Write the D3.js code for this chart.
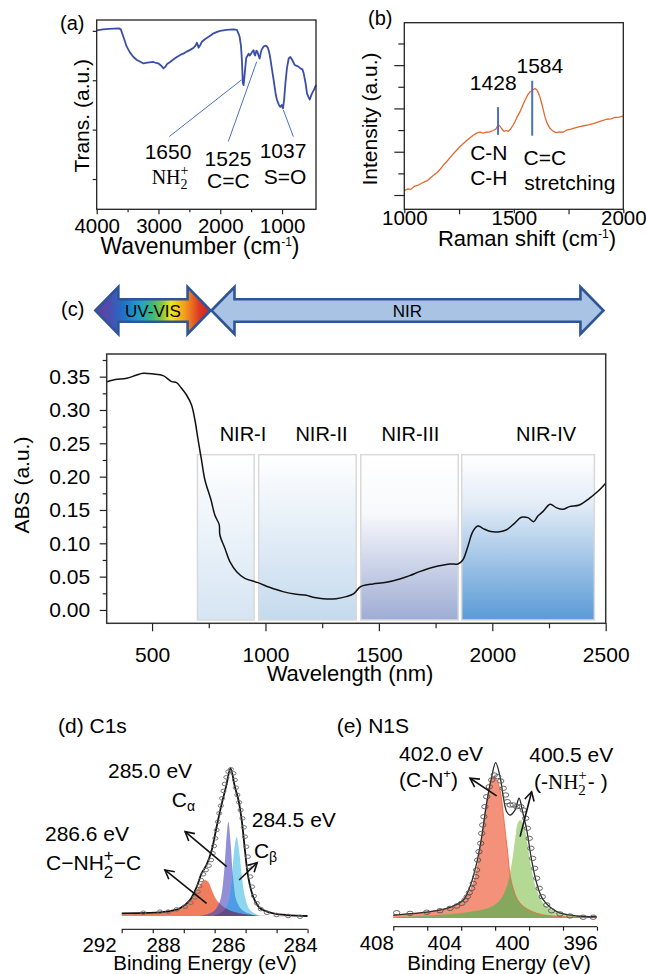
<!DOCTYPE html>
<html><head><meta charset="utf-8">
<script src="https://cdn.jsdelivr.net/npm/d3@7"></script>
<style>
body{margin:0;background:#fff;}
svg{display:block;}
</style></head><body>
<svg id="fig" width="646" height="974"></svg>
<script>
// ---------------- DATA ----------------
// (a) FTIR: [wavenumber cm-1, transmittance a.u.]
const ftir = [[4000,4.01],[3900,4.03],[3800,4.04],[3640,4.05],[3610,4.03],[3560,3.85],[3514,3.68],[3460,3.56],[3405,3.47],[3350,3.41],[3300,3.38],[3243,3.34],[3200,3.35],[3150,3.36],[3081,3.37],[3040,3.35],[3000,3.34],[2960,3.30],[2919,3.24],[2890,3.27],[2860,3.33],[2811,3.37],[2760,3.42],[2703,3.47],[2660,3.50],[2620,3.53],[2580,3.55],[2541,3.58],[2480,3.62],[2430,3.66],[2400,3.70],[2378,3.76],[2360,3.70],[2351,3.66],[2320,3.72],[2297,3.78],[2250,3.83],[2200,3.87],[2150,3.91],[2108,3.95],[2050,3.98],[2000,4.0],[1900,4.02],[1784,4.03],[1730,4.02],[1700,3.93],[1686,3.88],[1665,3.70],[1649,3.40],[1635,2.95],[1622,2.90],[1610,3.05],[1595,3.25],[1580,3.45],[1541,3.54],[1525,3.50],[1510,3.52],[1480,3.58],[1460,3.61],[1445,3.52],[1435,3.50],[1415,3.60],[1400,3.58],[1380,3.50],[1362,3.44],[1345,3.55],[1330,3.62],[1300,3.68],[1270,3.70],[1250,3.69],[1230,3.66],[1210,3.58],[1189,3.44],[1160,3.20],[1135,3.00],[1100,2.70],[1081,2.60],[1050,2.50],[1027,2.46],[1005,2.50],[984,2.43],[965,2.62],[946,2.93],[920,3.25],[892,3.44],[865,3.47],[830,3.40],[800,3.32],[784,3.30],[740,3.28],[703,3.24],[670,3.22],[649,3.14],[620,2.95],[595,2.73],[570,2.66],[551,2.61],[520,2.72],[486,2.80],[450,2.90]];
const ftirTicks = [4000,3000,2000,1000];
const ftirMinor = [3500,2500,1500];
const ftirYTicks = [1,2,3,4];
const ftirNotes = [
  {x0:1653, y0:3.01, x1:2825, y1:1.86, lx:2846, ly:1.41, num:"1650", sub:"NH2+", sx:2813, sy:0.90},
  {x0:1410, y0:3.376, x1:1870, y1:1.758, lx:1875, ly:1.266, num:"1525", sub:"C=C", sx:1870, sy:0.82},
  {x0:979, y0:2.40, x1:817, y1:1.859, lx:984, ly:1.428, num:"1037", sub:"S=O", sx:952, sy:0.90}
];

// (b) Raman: [Raman shift cm-1, intensity a.u.]
const raman = [[1000,1.10],[1015,1.14],[1030,1.13],[1045,1.20],[1060,1.22],[1075,1.26],[1090,1.30],[1105,1.33],[1120,1.40],[1135,1.46],[1150,1.52],[1165,1.60],[1180,1.70],[1195,1.78],[1210,1.87],[1225,1.96],[1240,2.04],[1255,2.12],[1270,2.19],[1285,2.26],[1300,2.32],[1315,2.38],[1330,2.43],[1345,2.45],[1360,2.43],[1375,2.45],[1390,2.46],[1405,2.49],[1418,2.52],[1428,2.62],[1436,2.60],[1445,2.53],[1455,2.47],[1465,2.49],[1475,2.47],[1485,2.52],[1495,2.60],[1505,2.69],[1515,2.80],[1528,2.92],[1540,3.06],[1551,3.19],[1562,3.30],[1574,3.38],[1585,3.42],[1597,3.46],[1605,3.43],[1612,3.36],[1620,3.25],[1627,3.12],[1635,2.96],[1642,2.81],[1652,2.66],[1665,2.54],[1680,2.47],[1696,2.44],[1710,2.46],[1725,2.45],[1741,2.50],[1760,2.52],[1780,2.55],[1802,2.58],[1820,2.60],[1840,2.62],[1863,2.65],[1880,2.68],[1900,2.71],[1924,2.75],[1945,2.76],[1960,2.79],[1980,2.80],[2000,2.82]];
const ramanTicks = [1000,1500,2000];
const ramanMinor = [1250,1750];
const ramanYTicks = [1,2,3,4];
const ramanYMinor = [1.5,2.5,3.5,4.5];
const ramanPeaks = [
  {x:1428, y0:2.39, y1:3.03, label:"1428", lx:1406, ly:3.42},
  {x:1584, y0:2.37, y1:3.64, label:"1584", lx:1619, ly:3.82}
];
const ramanNotes = [
  {t:"C-N", x:1386, y:1.81}, {t:"C-H", x:1386, y:1.22},
  {t:"C=C", x:1642, y:1.70}, {t:"stretching", x:1756, y:1.12}
];

// (c) UV-VIS-NIR absorbance: [wavelength nm, ABS a.u.]
const absorb = [[300,0.3425],[315,0.344],[329,0.345],[344,0.346],[388,0.3475],[432,0.3525],[461,0.355],[505,0.354],[549,0.3515],[586,0.3425],[608,0.341],[630,0.3325],[652,0.3225],[674,0.3075],[689,0.285],[703,0.255],[718,0.225],[733,0.195],[760,0.165],[777,0.142],[796,0.128],[799,0.1125],[821,0.0925],[843,0.0725],[873,0.0575],[909,0.0475],[967,0.041],[1018,0.034],[1077,0.0275],[1136,0.0235],[1180,0.022],[1209,0.019],[1253,0.017],[1312,0.017],[1356,0.02],[1388,0.024],[1415,0.034],[1430,0.0365],[1474,0.039],[1533,0.0415],[1592,0.0465],[1636,0.0515],[1680,0.0575],[1739,0.064],[1812,0.069],[1848,0.069],[1870,0.075],[1892,0.095],[1914,0.1175],[1936,0.126],[1958,0.1225],[1988,0.118],[2025,0.117],[2061,0.12],[2098,0.13],[2128,0.139],[2157,0.1385],[2182,0.1325],[2201,0.141],[2223,0.1475],[2255,0.1585],[2282,0.1535],[2311,0.151],[2340,0.155],[2384,0.1575],[2428,0.1675],[2472,0.18],[2500,0.19]];
const absTicks = [0,0.05,0.10,0.15,0.20,0.25,0.30,0.35];
const absMinor = [0.025,0.075,0.125,0.175,0.225,0.275,0.325,0.375];
const wlTicks = [500,1000,1500,2000,2500];
const wlMinor = [750,1250,1750,2250];
const nirBands = [
  {name:"NIR-I",   from:700,  to:950,  labelAt:901,  color:"#d6e5f3"},
  {name:"NIR-II",  from:970,  to:1400, labelAt:1247, color:"#c5daee"},
  {name:"NIR-III", from:1420, to:1850, labelAt:1639, color:"#9eacd4"},
  {name:"NIR-IV",  from:1865, to:2450, labelAt:2237, color:"#5a9ad6"}
];
const bandTop = 0.233, bandBottom = -0.015, bandLabelY = 0.254;
const spectrumBands = [{name:"UV-VIS", from:250, to:758}, {name:"NIR", from:762, to:2490}];

// (d) XPS C1s: [binding energy eV, normalised intensity]
const c1sEnvelope = [[290.58,0.018],[287.89,0.029],[287.48,0.052],[287.17,0.108],[286.96,0.198],[286.81,0.289],[286.66,0.345],[286.50,0.446],[286.35,0.603],[286.19,0.761],[286.06,0.874],[285.93,0.998],[285.81,0.874],[285.71,0.784],[285.62,0.649],[285.53,0.446],[285.44,0.266],[285.30,0.130],[285.11,0.052],[284.74,0.018],[283.79,0.0]];
const c1sCNH = [[290.58,0.012],[287.89,0.025],[287.38,0.063],[287.17,0.108],[286.96,0.176],[286.80,0.228],[286.71,0.243],[286.60,0.228],[286.50,0.176],[286.35,0.108],[286.14,0.063],[285.85,0.029],[285.20,0.004],[283.79,0.0]];
const c1sCa = [[286.86,0.0],[286.45,0.03],[286.25,0.10],[286.14,0.25],[286.06,0.48],[285.99,0.636],[285.93,0.50],[285.85,0.24],[285.76,0.10],[285.58,0.035],[285.20,0.0]];
const c1sCb = [[286.45,0.0],[286.14,0.035],[285.99,0.10],[285.90,0.24],[285.83,0.44],[285.76,0.535],[285.69,0.44],[285.62,0.28],[285.53,0.13],[285.39,0.04],[285.11,0.0]];
const c1sPoints = [[289.23,0.022],[288.19,0.029],[287.84,0.029],[287.58,0.045],[287.32,0.063],[287.15,0.090],[287.02,0.126],[286.93,0.164],[286.88,0.203],[286.83,0.243],[286.76,0.282],[286.68,0.311],[286.59,0.340],[286.52,0.378],[286.47,0.424],[286.43,0.473],[286.39,0.525],[286.35,0.581],[286.31,0.637],[286.27,0.694],[286.22,0.745],[286.18,0.795],[286.14,0.845],[286.10,0.892],[286.05,0.937],[285.99,0.975],[285.92,0.991],[285.85,0.964],[285.81,0.919],[285.78,0.867],[285.74,0.818],[285.69,0.768],[285.65,0.716],[285.60,0.660],[285.56,0.599],[285.53,0.536],[285.49,0.468],[285.45,0.401],[285.42,0.333],[285.38,0.266],[285.33,0.198],[285.28,0.135],[285.20,0.086],[285.09,0.047],[284.92,0.022],[284.65,0.007],[284.33,0.0],[284.0,-0.005]];
const c1sTickLabels = [292,288,286,284];
const c1sTicks = [290.58,288.64,287.36,286.41,285.51,284.65,283.79];

// (e) XPS N1s
const n1sEnvelope = [[407.0,0.019],[404.84,0.041],[403.66,0.069],[402.87,0.116],[402.48,0.202],[402.09,0.352],[401.79,0.524],[401.50,0.739],[401.20,0.910],[400.97,1.0],[400.71,0.910],[400.52,0.781],[400.32,0.684],[400.12,0.663],[399.83,0.695],[399.59,0.771],[399.38,0.684],[399.14,0.567],[398.85,0.373],[398.55,0.223],[398.16,0.116],[397.37,0.041],[396.19,0.013],[395.02,0.008]];
const n1sCN = [[407.0,0.019],[404.84,0.041],[403.26,0.084],[402.67,0.137],[402.29,0.223],[401.99,0.352],[401.79,0.524],[401.50,0.739],[401.25,0.880],[401.07,0.910],[400.90,0.885],[400.71,0.824],[400.48,0.631],[400.28,0.438],[400.02,0.223],[399.53,0.095],[398.55,0.030],[396.98,0.008],[395.02,0.003]];
const n1sNH = [[407.0,0.005],[402.87,0.034],[401.30,0.069],[400.71,0.116],[400.32,0.202],[400.02,0.352],[399.83,0.502],[399.63,0.620],[399.49,0.631],[399.30,0.588],[399.10,0.481],[398.85,0.309],[398.55,0.180],[397.96,0.073],[396.59,0.019],[395.02,0.005]];
const n1sPoints = [[406.80,0.034],[406.01,0.030],[405.03,0.037],[404.25,0.047],[403.66,0.062],[403.26,0.077],[402.97,0.095],[402.77,0.116],[402.64,0.137],[402.52,0.163],[402.38,0.191],[402.29,0.223],[402.14,0.266],[402.09,0.309],[402.03,0.373],[401.95,0.427],[401.85,0.481],[401.79,0.545],[401.73,0.599],[401.66,0.652],[401.60,0.717],[401.50,0.781],[401.34,0.845],[401.20,0.889],[401.05,0.921],[400.85,0.910],[400.67,0.882],[400.52,0.835],[400.38,0.792],[400.28,0.749],[400.12,0.728],[399.93,0.728],[399.73,0.717],[399.49,0.717],[399.34,0.695],[399.20,0.642],[399.10,0.578],[398.99,0.513],[398.89,0.449],[398.79,0.384],[398.67,0.320],[398.55,0.256],[398.40,0.191],[398.22,0.137],[397.96,0.084],[397.67,0.047],[397.18,0.026],[396.59,0.013],[395.81,0.005],[395.22,0.005]];
const n1sTickLabels = [408,404,400,396];
const n1sTicks = [407,405,403,401,399,397,395];

// ---------------- DRAWING ----------------
const FONT = '"Liberation Sans", Arial, Helvetica, sans-serif';
const SERIF = '"Liberation Serif", "Times New Roman", serif';
const fmtInt = d3.format("d");
const svg = d3.select("#fig");
svg.append("rect").attr("width",646).attr("height",974).attr("fill","#fff");
const defs = svg.append("defs");

function txt(parent, x, y, s, size, anchor, fam) {
  return parent.append("text").attr("x",x).attr("y",y)
    .attr("text-anchor",anchor||"start").attr("fill","#000")
    .style("font-family",fam||FONT).style("font-size",size+"px").text(s);
}
function richText(parent, x, y, segs, anchor) {
  const g = parent.append("g");
  let cx = 0;
  segs.forEach(s => {
    const fam = s.font || FONT;
    if (s.sup !== undefined || s.sub !== undefined) {
      let w = 0;
      if (s.sup) { const t = g.append("text").attr("x",cx).attr("y",y+s.supDy).attr("fill","#000").style("font-family",fam).style("font-size",s.size+"px").text(s.sup); w = Math.max(w,t.node().getComputedTextLength()); }
      if (s.sub) { const t = g.append("text").attr("x",cx).attr("y",y+s.subDy).attr("fill","#000").style("font-family",fam).style("font-size",s.size+"px").text(s.sub); w = Math.max(w,t.node().getComputedTextLength()); }
      cx += w + (s.pad||0);
    } else {
      const t = g.append("text").attr("x",cx).attr("y",y+(s.dy||0)).attr("fill","#000").style("font-family",fam).style("font-size",s.size+"px").text(s.t);
      cx += t.node().getComputedTextLength() + (s.pad||0);
    }
  });
  const shift = anchor==="middle" ? x - cx/2 : anchor==="end" ? x - cx : x;
  g.attr("transform",`translate(${shift},0)`);
  return g;
}
function styleAxis(sel, fs, labelY) {
  sel.select(".domain").remove();
  sel.selectAll(".tick line").attr("stroke","#222").attr("stroke-width",1.2);
  sel.selectAll(".tick text").attr("fill","#000").style("font-family",FONT).style("font-size",fs+"px");
  if (labelY !== undefined) sel.selectAll(".tick text").attr("dy",null).attr("y",labelY);
}
function frame(g, xs, ys, color, w) {
  const [x0,x1] = xs.range(), [y0,y1] = ys.range();
  g.append("rect").attr("x",Math.min(x0,x1)).attr("y",Math.min(y0,y1))
    .attr("width",Math.abs(x1-x0)).attr("height",Math.abs(y1-y0))
    .attr("fill","none").attr("stroke",color).attr("stroke-width",w);
}
function arrow(g, x1, y1, x2, y2) {
  g.append("line").attr("x1",x1).attr("y1",y1).attr("x2",x2).attr("y2",y2).attr("stroke","#111").attr("stroke-width",1.6);
  const a = Math.atan2(y2-y1, x2-x1), L = 10, s = 0.5;
  const p = d3.path();
  p.moveTo(x2 - L*Math.cos(a-s), y2 - L*Math.sin(a-s));
  p.lineTo(x2, y2);
  p.lineTo(x2 - L*Math.cos(a+s), y2 - L*Math.sin(a+s));
  g.append("path").attr("d",p.toString()).attr("fill","none").attr("stroke","#111").attr("stroke-width",1.6);
}

// ===== (a) FTIR =====
const xA = d3.scaleLinear().domain([4000,450]).range([96.7,316]);
const yA = d3.scaleLinear().domain([0.387,4.22]).range([209.3,20]);
const gA = svg.append("g");
gA.append("path").datum(ftir).attr("fill","none").attr("stroke","#3a4eaa").attr("stroke-width",1.8).attr("stroke-linejoin","round")
  .attr("d", d3.line().x(d=>xA(d[0])).y(d=>yA(d[1])));
frame(gA, xA, yA, "#222", 1.3);
gA.append("g").attr("transform",`translate(0,${yA(yA.domain()[0])})`).call(d3.axisBottom(xA).tickValues(ftirTicks).tickSize(5).tickFormat(fmtInt)).call(styleAxis,20.5,23.5);
gA.append("g").attr("transform",`translate(0,${yA(yA.domain()[0])})`).call(d3.axisBottom(xA).tickValues(ftirMinor).tickSize(3).tickFormat("")).call(styleAxis,20);
gA.append("g").attr("transform",`translate(${xA(4000)},0)`).call(d3.axisLeft(yA).tickValues(ftirYTicks).tickSize(4).tickFormat("")).call(styleAxis,20);
ftirNotes.forEach(n => {
  gA.append("line").attr("x1",xA(n.x0)).attr("y1",yA(n.y0)).attr("x2",xA(n.x1)).attr("y2",yA(n.y1)).attr("stroke","#4a72c4").attr("stroke-width",1);
  txt(gA, xA(n.lx), yA(n.ly), n.num, 21, "middle");
  if (n.sub === "NH2+") {
    richText(gA, xA(n.sx), yA(n.sy), [{t:"NH", size:20, font:SERIF},{sup:"+", sub:"2", size:14, supDy:-9, subDy:5, font:SERIF}], "middle");
  } else {
    txt(gA, xA(n.sx), yA(n.sy), n.sub, 21, "middle");
  }
});
txt(gA, 60, 30, "(a)", 20);
richText(gA, 200, 253.5, [{t:"Wavenumber (cm", size:23},{t:"-1", size:12, dy:-8},{t:")", size:23}], "middle");
txt(gA, 0, 0, "Trans. (a.u.)", 21, "middle").attr("transform","translate(81.7,115.8) rotate(-90)").attr("dy","0.35em");

// ===== (b) Raman =====
const xB = d3.scaleLinear().domain([1000,2000]).range([404.3,623.3]);
const yB = d3.scaleLinear().domain([0.67,4.98]).range([209.3,22.7]);
const gB = svg.append("g");
gB.append("path").datum(raman).attr("fill","none").attr("stroke","#e2692d").attr("stroke-width",1.3).attr("stroke-linejoin","round")
  .attr("d", d3.line().x(d=>xB(d[0])).y(d=>yB(d[1])));
frame(gB, xB, yB, "#222", 1.3);
gB.append("g").attr("transform",`translate(0,${yB(0.67)})`).call(d3.axisBottom(xB).tickValues(ramanTicks).tickSize(4).tickFormat(fmtInt)).call(styleAxis,20.5,15.7);
gB.append("g").attr("transform",`translate(0,${yB(0.67)})`).call(d3.axisBottom(xB).tickValues(ramanMinor).tickSize(5).tickFormat("")).call(styleAxis,20);
gB.append("g").attr("transform",`translate(${xB(1000)},0)`).call(d3.axisLeft(yB).tickValues(ramanYTicks).tickSize(10).tickFormat("")).call(styleAxis,20);
gB.append("g").attr("transform",`translate(${xB(1000)},0)`).call(d3.axisLeft(yB).tickValues(ramanYMinor).tickSize(6).tickFormat("")).call(styleAxis,20);
ramanPeaks.forEach(p => {
  gB.append("line").attr("x1",xB(p.x)).attr("x2",xB(p.x)).attr("y1",yB(p.y0)).attr("y2",yB(p.y1)).attr("stroke","#4a72c4").attr("stroke-width",2);
  txt(gB, xB(p.lx), yB(p.ly), p.label, 21, "middle");
});
ramanNotes.forEach(n => txt(gB, xB(n.x), yB(n.y), n.t, 21, "middle"));
txt(gB, 368, 25, "(b)", 20);
richText(gB, 527, 245.5, [{t:"Raman shift (cm", size:22},{t:"-1", size:12, dy:-8},{t:")", size:22}], "middle");
txt(gB, 0, 0, "Intensity (a.u.)", 21, "middle").attr("transform","translate(370,119) rotate(-90)").attr("dy","0.35em");

// ===== (c) UV-VIS-NIR =====
const xC = d3.scaleLinear().domain([300,2500]).range([106.7,605.7]);
const yC = d3.scaleLinear().domain([-0.02,0.384]).range([623.3,354]);
const gC = svg.append("g");
const uvGrad = defs.append("linearGradient").attr("id","uvvis").attr("gradientUnits","userSpaceOnUse")
  .attr("x1",xC(250)).attr("x2",xC(758)).attr("y1",0).attr("y2",0);
[[0,"#6a3a9c"],[0.13,"#4a4fb0"],[0.24,"#1f6fc8"],[0.38,"#1fa0c8"],[0.5,"#3fb878"],[0.58,"#8cc63e"],[0.66,"#f2e61a"],[0.78,"#f29a1e"],[0.9,"#dc3a24"],[1,"#c81e28"]]
  .forEach(s => uvGrad.append("stop").attr("offset",s[0]).attr("stop-color",s[1]));
function dblArrow(x0, x1, cy, hh, sh, hl) {
  const p = d3.path();
  p.moveTo(x0, cy); p.lineTo(x0+hl, cy-hh); p.lineTo(x0+hl, cy-sh); p.lineTo(x1-hl, cy-sh);
  p.lineTo(x1-hl, cy-hh); p.lineTo(x1, cy); p.lineTo(x1-hl, cy+hh); p.lineTo(x1-hl, cy+sh);
  p.lineTo(x0+hl, cy+sh); p.lineTo(x0+hl, cy+hh); p.closePath();
  return p.toString();
}
spectrumBands.forEach((b,i) => {
  const x0 = xC(b.from), x1 = xC(b.to);
  gC.append("path").attr("d", dblArrow(x0, x1, 310.5, 23.5, 11.2, 23))
    .attr("fill", i===0 ? "url(#uvvis)" : "#a9c3e4").attr("stroke","#2e5597").attr("stroke-width",2.6).attr("stroke-linejoin","miter");
  txt(gC, (x0+x1)/2, 316.7, b.name, 17, "middle");
});
txt(gC, 61, 316, "(c)", 20);
nirBands.forEach((b,i) => {
  const gr = defs.append("linearGradient").attr("id","nir"+i).attr("x1",0).attr("x2",0).attr("y1",0).attr("y2",1);
  if (i===3) {
    gr.append("stop").attr("offset",0).attr("stop-color","#ffffff");
    gr.append("stop").attr("offset",0.3).attr("stop-color","#e3ecf7");
    gr.append("stop").attr("offset",1).attr("stop-color",b.color);
  } else if (i===2) {
    gr.append("stop").attr("offset",0).attr("stop-color","#ffffff");
    gr.append("stop").attr("offset",0.35).attr("stop-color","#f8f9fc");
    gr.append("stop").attr("offset",1).attr("stop-color",b.color);
  } else {
    gr.append("stop").attr("offset",0).attr("stop-color","#ffffff");
    gr.append("stop").attr("offset",1).attr("stop-color",b.color);
  }
  gC.append("rect").attr("x",xC(b.from)).attr("y",yC(bandTop)).attr("width",xC(b.to)-xC(b.from)).attr("height",yC(bandBottom)-yC(bandTop))
    .attr("fill",`url(#nir${i})`).attr("stroke","#d9d9d9").attr("stroke-width",1.5);
  txt(gC, xC(b.labelAt), yC(bandLabelY), b.name, 20, "middle");
});
gC.append("path").datum(absorb).attr("fill","none").attr("stroke","#111").attr("stroke-width",1.5)
  .attr("d", d3.line().x(d=>xC(d[0])).y(d=>yC(d[1])).curve(d3.curveCatmullRom.alpha(0.5)));
frame(gC, xC, yC, "#333", 1.5);
gC.append("g").attr("transform",`translate(0,${yC(-0.02)})`).call(d3.axisBottom(xC).tickValues(wlTicks).tickSize(8).tickFormat(fmtInt)).call(styleAxis,21,38.4);
gC.append("g").attr("transform",`translate(0,${yC(-0.02)})`).call(d3.axisBottom(xC).tickValues(wlMinor).tickSize(5).tickFormat("")).call(styleAxis,21);
gC.append("g").attr("transform",`translate(${xC(300)},0)`).call(d3.axisLeft(yC).tickValues(absTicks).tickSize(7).tickPadding(9.5).tickFormat(d3.format(".2f"))).call(styleAxis,21);
gC.append("g").attr("transform",`translate(${xC(300)},0)`).call(d3.axisLeft(yC).tickValues(absMinor).tickSize(4).tickFormat("")).call(styleAxis,21);
txt(gC, 350, 681, "Wavelength (nm)", 22, "middle");
txt(gC, 0, 0, "ABS (a.u.)", 21, "middle").attr("transform","translate(21.7,485) rotate(-90)").attr("dy","0.35em");

// ===== (d) C1s =====
const xD = d3.scaleLinear().domain(c1sTickLabels).range([99,163,228,300]);
const yD = d3.scaleLinear().domain([0,1]).range([916,768]);
const gD = svg.append("g");
const areaD = d3.area().x(d=>xD(d[0])).y0(yD(0)).y1(d=>yD(d[1])).curve(d3.curveCatmullRom.alpha(0.5));
defs.append("clipPath").attr("id","clipCa").append("path").attr("d", areaD(c1sCa));
defs.append("clipPath").attr("id","clipCb").append("path").attr("d", areaD(c1sCb));
gD.append("path").attr("d", areaD(c1sCNH)).attr("fill","#f07d5c");
gD.append("path").attr("d", areaD(c1sCa)).attr("fill","#938ed8");
gD.append("path").attr("d", areaD(c1sCb)).attr("fill","#8dd6ef");
gD.append("path").attr("d", areaD(c1sCa)).attr("fill","rgba(30,110,220,0.55)").attr("clip-path","url(#clipCb)");
gD.append("path").attr("d", areaD(c1sCNH)).attr("fill","rgba(110,30,80,0.45)").attr("clip-path","url(#clipCa)");
gD.append("path").attr("d", areaD(c1sCNH)).attr("fill","rgba(110,30,80,0.35)").attr("clip-path","url(#clipCb)");
gD.append("path").datum(c1sEnvelope).attr("fill","none").attr("stroke","#111").attr("stroke-width",1.8)
  .attr("d", d3.line().x(d=>xD(d[0])).y(d=>yD(d[1])).curve(d3.curveCatmullRom.alpha(0.5)));
gD.selectAll("ellipse").data(c1sPoints).join("ellipse").attr("cx",d=>xD(d[0])).attr("cy",d=>yD(d[1])).attr("rx",2.6).attr("ry",1.8)
  .attr("fill","none").attr("stroke","#6a6a6a").attr("stroke-width",0.9);
const axYD = 929.3;
gD.append("line").attr("x1",xD(c1sTicks[0])).attr("x2",xD(c1sTicks[c1sTicks.length-1])).attr("y1",axYD).attr("y2",axYD).attr("stroke","#333").attr("stroke-width",1.3);
gD.append("g").attr("transform",`translate(0,${axYD})`).call(d3.axisBottom(xD).tickValues(c1sTicks).tickSize(4).tickFormat("")).call(styleAxis,20);
gD.append("g").attr("transform",`translate(0,${axYD})`).call(d3.axisBottom(xD).tickValues(c1sTickLabels).tickSize(0).tickFormat(fmtInt)).call(styleAxis,20.5,23)
  .selectAll(".tick line").remove();
txt(gD, 205, 969.5, "Binding Energy (eV)", 20.5, "middle");
txt(gD, 58, 733.3, "(d) C1s", 21);
arrow(gD, xD(286.66), yD(0.086), xD(287.94), yD(0.311));
arrow(gD, xD(286.04), yD(0.333), xD(287.32), yD(0.570));
arrow(gD, xD(285.69), yD(0.243), xD(285.19), yD(0.360));
txt(gD, xD(288.81), yD(0.930), "285.0 eV", 21, "middle");
richText(gD, xD(287.73), yD(0.739), [{t:"C", size:21},{t:"α", size:14, dy:4}], "start");
txt(gD, xD(285.34), yD(0.603), "284.5 eV", 21, "start");
richText(gD, xD(285.28), yD(0.390), [{t:"C", size:21},{t:"β", size:14, dy:4}], "start");
txt(gD, xD(292.75), yD(0.509), "286.6 eV", 21, "middle");
richText(gD, xD(295.31), yD(0.311), [{t:"C−NH", size:21},{sup:"+", sub:"2", size:17, supDy:-9, subDy:8},{t:"−C", size:21}], "start");

// ===== (e) N1s =====
const xE = d3.scaleLinear().domain([408,396]).range([376.3,580]);
const yE = d3.scaleLinear().domain([0,1]).range([918,762.7]);
const gE = svg.append("g");
const areaE = d3.area().x(d=>xE(d[0])).y0(yE(0)).y1(d=>yE(d[1])).curve(d3.curveCatmullRom.alpha(0.5));
defs.append("clipPath").attr("id","clipNH").append("path").attr("d", areaE(n1sNH));
gE.append("path").attr("d", areaE(n1sCN)).attr("fill","#f3917a");
gE.append("path").attr("d", areaE(n1sNH)).attr("fill","#b3d994");
gE.append("path").attr("d", areaE(n1sCN)).attr("fill","rgba(70,100,20,0.42)").attr("clip-path","url(#clipNH)");
gE.append("path").datum(n1sCN).attr("fill","none").attr("stroke","#ee6a3e").attr("stroke-width",0.9)
  .attr("d", d3.line().x(d=>xE(d[0])).y(d=>yE(d[1])).curve(d3.curveCatmullRom.alpha(0.5)));
gE.append("path").datum(n1sEnvelope).attr("fill","none").attr("stroke","#2b2b2b").attr("stroke-width",1.3)
  .attr("d", d3.line().x(d=>xE(d[0])).y(d=>yE(d[1])).curve(d3.curveCatmullRom.alpha(0.5)));
gE.selectAll("ellipse").data(n1sPoints).join("ellipse").attr("cx",d=>xE(d[0])).attr("cy",d=>yE(d[1])).attr("rx",3.2).attr("ry",2.2)
  .attr("fill","none").attr("stroke","#555").attr("stroke-width",0.9);
const axYE = 926.7;
gE.append("line").attr("x1",xE(n1sTicks[0])).attr("x2",xE(n1sTicks[n1sTicks.length-1])).attr("y1",axYE).attr("y2",axYE).attr("stroke","#333").attr("stroke-width",1.3);
gE.append("g").attr("transform",`translate(0,${axYE})`).call(d3.axisBottom(xE).tickValues(n1sTicks).tickSize(4).tickFormat("")).call(styleAxis,20);
gE.append("g").attr("transform",`translate(0,${axYE})`).call(d3.axisBottom(xE).tickValues(n1sTickLabels).tickSize(0).tickFormat(fmtInt)).call(styleAxis,20.5,23)
  .selectAll(".tick line").remove();
txt(gE, 499, 969.5, "Binding Energy (eV)", 20.5, "middle");
txt(gE, 336.7, 733.3, "(e) N1S", 21);
arrow(gE, xE(400.91), yE(0.786), xE(402.48), yE(0.900));
arrow(gE, xE(399.53), yE(0.524), xE(398.85), yE(0.813));
txt(gE, xE(406.66), yE(1.013), "402.0 eV", 21, "start");
richText(gE, xE(406.66), yE(0.845), [{t:"(C-N", size:21},{t:"+", size:13, dy:-9},{t:")", size:21}], "start");
txt(gE, xE(398.99), yE(1.006), "400.5 eV", 21, "start");
richText(gE, xE(398.71), yE(0.829), [{t:"(-", size:21},{t:"NH", size:21, font:SERIF},{sup:"+", sub:"2", size:15, supDy:-9, subDy:6, font:SERIF, pad:1},{t:"- )", size:21}], "start");
</script></body></html>
